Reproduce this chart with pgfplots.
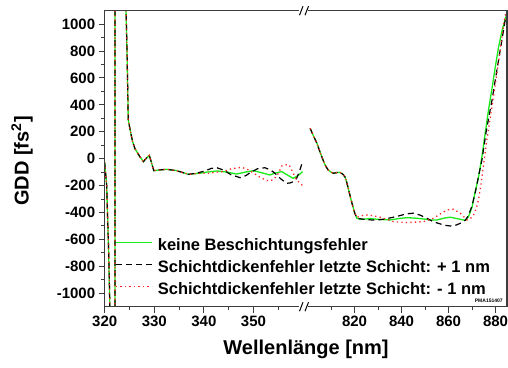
\documentclass[border=0pt]{standalone}
\usepackage{fontspec}
\setmainfont{Liberation Sans}
\usepackage{pgfplots}
\pgfplotsset{compat=1.18}
\definecolor{cgreen}{RGB}{25,235,25}
\definecolor{cred}{RGB}{255,35,35}
\definecolor{caxis}{RGB}{60,60,60}

\pgfplotsset{
  brk/.style={
    scale only axis, height=296pt,
    ymin=-1100, ymax=1100,
    axis line style={draw=none},
    tick align=outside,
    xtick pos=left, ytick pos=left,
    major tick length=6pt, minor tick length=3.5pt,
    every tick/.style={caxis, line width=1pt},
    ticklabel style={font=\bfseries\fontsize{15}{18}\selectfont},
    /pgf/number format/assume math mode=true,
    /pgf/number format/set thousands separator={},
    clip mode=individual,
  },
  gr/.style={cgreen, line width=1.3pt},
  bk/.style={black, line width=1.2pt, dash pattern=on 6pt off 4pt},
  rd/.style={cred, line width=1.3pt, dash pattern=on 1.3pt off 3.2pt},
}

\begin{document}
\begin{tikzpicture}
\useasboundingbox (0,0) rectangle (508pt,367pt);

\begin{axis}[brk, name=L, at={(104.7pt,60.3pt)}, anchor=south west,
  width=198.4pt, xmin=320, xmax=360,
  xtick={320,330,340,350}, minor xtick={325,335,345,355},
  ytick={-1000,-800,...,1000}, minor ytick={-900,-700,...,900},
  legend style={at={(axis description cs:0.052,0.2385)}, anchor=north west,
    draw=none, fill=none, inner sep=0pt, row sep=0pt,
    font=\bfseries\fontsize{16.5}{18}\selectfont,
    nodes={inner sep=2pt, text height=12.5pt, text depth=5.5pt}},
  legend cell align=left,
  legend image code/.code={\path[draw=none] (0pt,0pt) -- (40pt,0pt); \draw[#1] (0pt,5pt) -- (36pt,5pt);},
]
\addplot[gr] coordinates {
(320,-30) (320.4,-200) (320.8,-700) (321.1,-1200) (321.3,-3000)
(322.05,-3000) (322.1,3000) (324.1,3000) (324.3,1100) (324.5,800) (324.75,290)
(325.1,220) (325.6,130) (326.1,75) (327.0,20) (327.8,-22) (328.3,0) (329.0,25)
(329.9,-89) (331,-84) (332.5,-79) (334.5,-89) (336.9,-116) (339.2,-108)
(340.5,-100) (342.6,-91) (344.6,-99) (346.6,-114) (348.3,-100) (350.0,-89)
(351.7,-105) (353.3,-121) (354.5,-105) (355.7,-96) (357.0,-125) (358.0,-146)
(359,-125) (359.9,-96)
};
\addlegendentry{keine Beschichtungsfehler}
\addplot[bk] coordinates {
(320,-30) (320.4,-200) (320.8,-700) (321.1,-1200) (321.3,-3000)
(322.05,-3000) (322.1,3000) (324.1,3000) (324.3,1100) (324.5,800) (324.75,290)
(325.1,220) (325.6,130) (326.1,75) (327.0,20) (327.8,-22) (328.3,0) (329.0,25)
(329.9,-89) (331,-84) (332.5,-79) (334.5,-89) (336.9,-116)
(338.5,-108) (340.2,-91) (341.5,-72) (342.6,-67) (344,-85) (345.5,-120)
(347.3,-141) (348.5,-125) (349.3,-104) (350.8,-75) (352.3,-67) (353.5,-85)
(354.3,-108) (355.5,-150) (356.7,-183) (357.4,-180) (358,-171) (358.7,-146)
(359.3,-90) (359.9,-22)
};
\addlegendentry{Schichtdickenfehler letzte Schicht: + 1 nm}
\addplot[rd] coordinates {
(320,-30) (320.4,-200) (320.8,-700) (321.1,-1200) (321.3,-3000)
(322.05,-3000) (322.1,3000) (324.1,3000) (324.3,1100) (324.5,800) (324.75,290)
(325.1,220) (325.6,130) (326.1,75) (327.0,20) (327.8,-22) (328.3,0) (329.0,25)
(329.9,-89) (331,-84) (332.5,-79) (334.5,-89) (336.9,-116) (339,-110)
(340,-108) (341.2,-108) (342.5,-100) (343.9,-96) (345.5,-75) (347.6,-64)
(348.8,-80) (349.9,-104) (351.2,-135) (352.7,-163) (354,-158) (355,-110)
(355.7,-54) (357,-42) (357.4,-60) (358,-108) (358.7,-158) (359.9,-200)
};
\addlegendentry{Schichtdickenfehler letzte Schicht: - 1 nm}
\end{axis}

\begin{axis}[brk, name=R, at={(307.55pt,60.3pt)}, anchor=south west,
  width=199.75pt, xmin=800, xmax=885,
  xtick={820,840,860,880}, minor xtick={810,830,850,870},
  ytick=\empty, minor ytick=\empty,
]
\addplot[gr] coordinates {
(801.1,226) (802.5,170) (804.0,114) (805.3,50) (806.6,-10) (807.7,-55)
(808.8,-84) (810,-100) (811.1,-108) (812.5,-103) (813.7,-101) (815,-115)
(815.9,-134) (816.6,-170) (817.3,-220) (818.1,-275) (818.9,-331) (820,-400)
(821,-443) (822.5,-450) (823.8,-450) (826.5,-445) (829.5,-450) (832.5,-453)
(835.2,-455) (838.8,-445) (842.3,-438) (846,-442) (849.4,-448) (852,-455)
(855.1,-455) (858,-442) (860.7,-435) (863.5,-445) (867.0,-458) (868.5,-430)
(870,-360) (871.2,-257) (872.8,-134) (874.2,15) (875.6,189) (877.0,362)
(878.5,523) (879.9,683) (881.3,831) (882.8,955) (884.2,1042) (885.2,1091)
};
\addplot[bk] coordinates {
(801.1,226) (802.5,170) (804.0,114) (805.3,50) (806.6,-10) (807.7,-55)
(808.8,-84) (810,-100) (811.1,-108) (812.5,-103) (813.7,-101) (815,-115)
(815.9,-134) (816.6,-170) (817.3,-220) (818.1,-275) (818.9,-331) (820,-400)
(821,-443) (823.8,-450) (827,-455) (830,-455) (833,-448) (836,-437)
(839.5,-422) (842,-410) (845.1,-405) (848,-420) (850.8,-443) (853.5,-468)
(856.5,-485) (858.5,-495) (860.7,-500) (863,-495) (865,-480) (867.3,-455)
(868.5,-420) (870,-350) (871.5,-240) (873,-110) (874.2,-10) (876,200)
(878.5,436) (880.5,650) (882,807) (884.1,1030) (885.2,1110)
};
\addplot[rd] coordinates {
(801.1,226) (802.5,170) (804.0,114) (805.3,50) (806.6,-10) (807.7,-55)
(808.8,-84) (810,-100) (811.1,-108) (812.5,-103) (813.7,-101) (815,-115)
(815.9,-134) (816.6,-170) (817.3,-220) (818.1,-275) (818.9,-331) (820,-400)
(821,-435) (823.5,-422) (826,-418) (831,-435) (836.6,-468) (842.3,-475)
(849.4,-468) (853.6,-443) (856.5,-410) (859.3,-381) (862.1,-376) (865,-405)
(867.8,-455) (869,-450) (870.6,-420) (871.8,-370) (872.8,-300) (873.8,-190)
(875,-30) (876.3,139) (877.7,300) (879.1,460) (880.5,630) (882,807)
(883.5,1005) (884.5,1090) (885.2,1140)
};
\node[font=\bfseries\fontsize{5}{6}\selectfont, anchor=east, inner sep=0pt]
  at (rel axis cs:0.978,0.021) {PMA151407};
\end{axis}

% axis frame with break
\begin{scope}[caxis, line width=1.5pt]
\draw (104.7pt,60.3pt) -- (104.7pt,356.3pt);
\draw (507pt,60.3pt) -- (507pt,356.3pt);
\draw (104pt,60.3pt) -- (299pt,60.3pt);
\draw (104pt,356.3pt) -- (299pt,356.3pt);
\draw (308pt,60.3pt) -- (507.7pt,60.3pt);
\draw (308pt,356.3pt) -- (507.7pt,356.3pt);
\end{scope}
\begin{scope}[black, line width=1pt]
\draw (299.5pt,55.8pt) -- (303pt,64.8pt);
\draw (305pt,55.8pt) -- (308.5pt,64.8pt);
\draw (299.5pt,351.8pt) -- (303pt,360.8pt);
\draw (305pt,351.8pt) -- (308.5pt,360.8pt);
\end{scope}

\node[font=\bfseries\fontsize{20}{24}\selectfont, anchor=base] at (306pt,13pt) {Wellenlänge [nm]};
\node[font=\bfseries\fontsize{20}{24}\selectfont, rotate=90] at (22pt,206pt) {GDD [fs\textsuperscript{2}]};
\end{tikzpicture}
\end{document}
